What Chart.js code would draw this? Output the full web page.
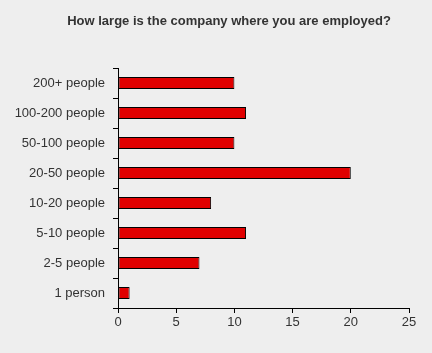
<!DOCTYPE html>
<html>
<head>
<meta charset="utf-8">
<script src="https://cdn.jsdelivr.net/npm/chart.js@4"></script>
<style>
  html, body { margin: 0; padding: 0; background: #eeeeee; }
  #wrap { width: 432px; height: 353px; }
</style>
</head>
<body>
<div id="wrap"><canvas id="c" width="432" height="353"></canvas></div>
<script>
const categories = ["200+ people", "100-200 people", "50-100 people", "20-50 people", "10-20 people", "5-10 people", "2-5 people", "1 person"];
const counts = [10, 11, 10, 20, 8, 11, 7, 1];
const xTicks = [0, 5, 10, 15, 20, 25];
const titleText = "How large is the company where you are employed?";

const FONT = "'Liberation Sans', Arial, sans-serif";

// shift the title's horizontal box so its centre matches the reference
const titleShift = {
  id: 'titleShift',
  afterLayout(chart) {
    if (chart.titleBlock) { chart.titleBlock.left = 26; chart.titleBlock.right = 432; }
  }
};

new Chart(document.getElementById('c'), {
  type: 'bar',
  data: {
    labels: categories,
    datasets: [{
      data: counts,
      backgroundColor: '#e00000',
      borderColor: '#000000',
      borderWidth: 1,
      borderSkipped: false,
      barPercentage: 0.5,
      categoryPercentage: 0.8
    }]
  },
  plugins: [titleShift],
  options: {
    indexAxis: 'y',
    responsive: false,
    animation: false,
    devicePixelRatio: 1,
    layout: { padding: 0 },
    plugins: {
      legend: { display: false },
      tooltip: { enabled: false },
      title: {
        display: true,
        text: titleText,
        color: '#333333',
        font: { family: FONT, size: 13, weight: 'bold', lineHeight: 1.2 },
        padding: { top: 13.2, bottom: 39.2 }
      }
    },
    scales: {
      x: {
        min: xTicks[0],
        max: xTicks[xTicks.length - 1],
        afterBuildTicks: (scale) => { scale.ticks = xTicks.map(v => ({ value: v })); },
        afterFit: (scale) => { scale.height = 45; scale.paddingRight = 23; },
        grid: { drawOnChartArea: false, drawTicks: true, tickLength: 5, color: '#000000', lineWidth: 1 },
        border: { display: true, color: '#000000', width: 1 },
        ticks: { color: '#333333', padding: 2, font: { family: FONT, size: 13 } }
      },
      y: {
        afterFit: (scale) => { scale.width = 118; },
        grid: { drawOnChartArea: false, drawTicks: true, tickLength: 5, color: '#000000', lineWidth: 1, offset: true },
        border: { display: true, color: '#000000', width: 1 },
        ticks: { color: '#333333', padding: 8, font: { family: FONT, size: 13 } }
      }
    }
  }
});
</script>
</body>
</html>
